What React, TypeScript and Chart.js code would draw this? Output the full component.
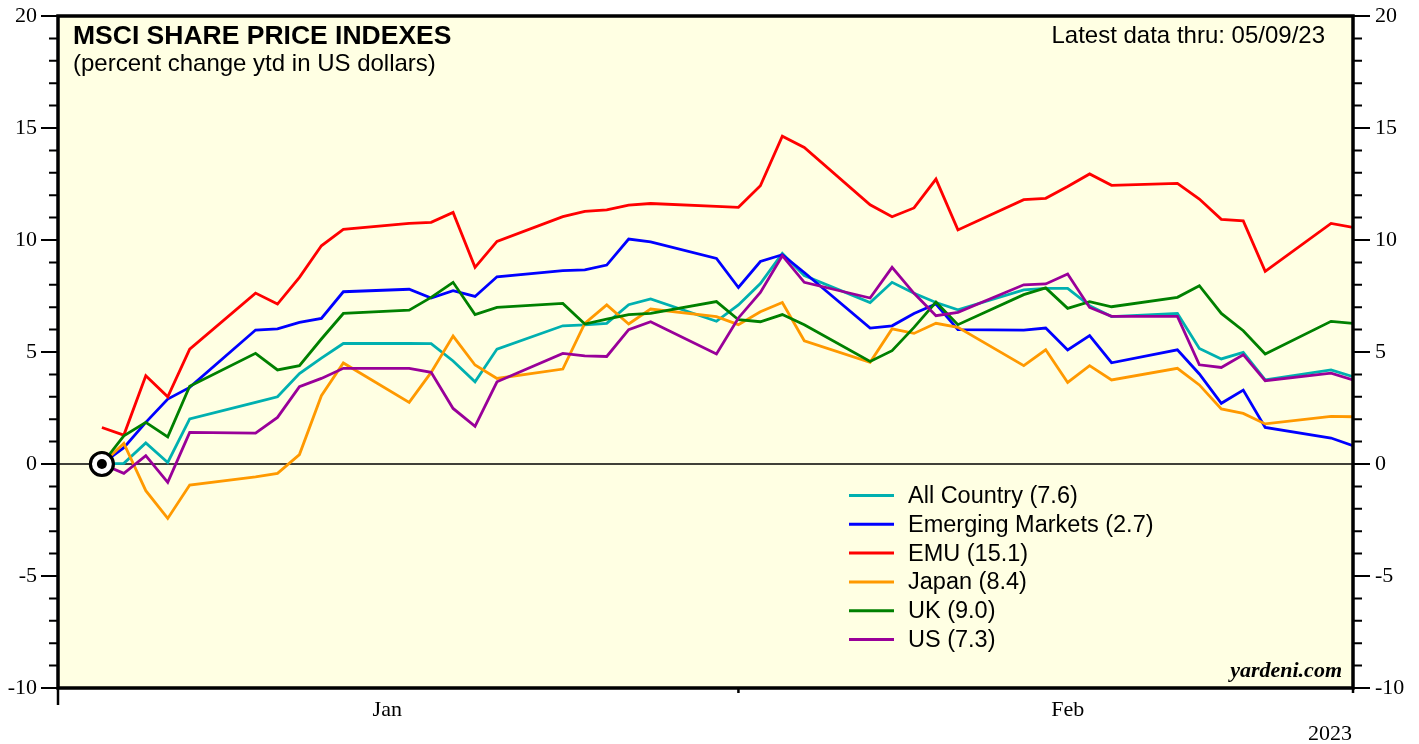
import React, { useEffect, useRef } from "react";
import { Chart, registerables } from "chart.js";
Chart.register(...registerables);

// ---- Data ----
const dates = [
  "2023-01-02", "2023-01-03", "2023-01-04", "2023-01-05", "2023-01-06",
  "2023-01-09", "2023-01-10", "2023-01-11", "2023-01-12", "2023-01-13",
  "2023-01-16", "2023-01-17", "2023-01-18", "2023-01-19", "2023-01-20",
  "2023-01-23", "2023-01-24", "2023-01-25", "2023-01-26", "2023-01-27",
  "2023-01-30", "2023-01-31", "2023-02-01", "2023-02-02", "2023-02-03",
  "2023-02-06", "2023-02-07", "2023-02-08", "2023-02-09", "2023-02-10",
  "2023-02-13", "2023-02-14", "2023-02-15", "2023-02-16", "2023-02-17",
  "2023-02-20", "2023-02-21", "2023-02-22", "2023-02-23", "2023-02-24",
  "2023-02-27", "2023-02-28",
];

const allCountry = [
  0, 0.03, 0.94, 0.07, 2.01, 2.75, 3.0, 4.04, 4.73, 5.38,
  5.38, 5.37, 4.6, 3.67, 5.13, 6.17, 6.21, 6.28, 7.11, 7.37,
  6.37, 7.1, 8.06, 9.4, 8.41, 7.21, 8.11, 7.62, 7.21, 6.88,
  7.77, 7.84, 7.84, 7.07, 6.58, 6.72, 5.16, 4.69, 4.98, 3.76,
  4.2, 3.9,
];
const emergingMarkets = [
  0, 0.73, 1.86, 2.9, 3.42, 5.98, 6.03, 6.32, 6.5, 7.69,
  7.8, 7.41, 7.74, 7.48, 8.36, 8.63, 8.67, 8.88, 10.04, 9.92,
  9.18, 7.88, 9.04, 9.34, 8.55, 6.07, 6.17, 6.72, 7.14, 6.0,
  5.98, 6.07, 5.09, 5.73, 4.52, 5.1, 4.02, 2.71, 3.3, 1.63,
  1.16, 0.82,
];
const emu = [
  1.63, 1.29, 3.94, 3.0, 5.13, 7.63, 7.14, 8.33, 9.74, 10.47,
  10.74, 10.79, 11.23, 8.78, 9.94, 11.04, 11.28, 11.34, 11.56, 11.63,
  11.5, 11.46, 12.42, 14.63, 14.13, 11.57, 11.04, 11.43, 12.72, 10.45,
  11.8, 11.86, 12.39, 12.95, 12.44, 12.53, 11.83, 10.92, 10.85, 8.6,
  10.74, 10.56,
];
const japan = [
  0, 0.92, -1.19, -2.43, -0.94, -0.57, -0.42, 0.42, 3.05, 4.51,
  2.75, 4.09, 5.71, 4.42, 3.82, 4.24, 6.28, 7.1, 6.25, 6.92,
  6.58, 6.22, 6.8, 7.21, 5.5, 4.54, 6.03, 5.83, 6.28, 6.1,
  4.39, 5.1, 3.64, 4.39, 3.75, 4.27, 3.53, 2.46, 2.26, 1.79,
  2.13, 2.11,
];
const uk = [
  0, 1.26, 1.86, 1.21, 3.47, 4.94, 4.2, 4.39, 5.58, 6.72,
  6.87, 7.44, 8.11, 6.67, 6.99, 7.17, 6.25, 6.47, 6.67, 6.72,
  7.25, 6.44, 6.35, 6.67, 6.22, 4.58, 5.06, 6.1, 7.23, 6.22,
  7.56, 7.86, 6.95, 7.25, 7.02, 7.44, 7.96, 6.72, 5.95, 4.91,
  6.37, 6.28,
];
const us = [
  0, -0.42, 0.37, -0.82, 1.41, 1.38, 2.08, 3.45, 3.82, 4.27,
  4.27, 4.09, 2.48, 1.68, 3.67, 4.94, 4.83, 4.8, 6.0, 6.35,
  4.91, 6.52, 7.66, 9.3, 8.11, 7.41, 8.78, 7.62, 6.62, 6.77,
  8.0, 8.04, 8.48, 6.99, 6.59, 6.59, 4.43, 4.31, 4.88, 3.72,
  4.06, 3.75,
];

const seriesLabels = [
  "All Country (7.6)",
  "Emerging Markets (2.7)",
  "EMU (15.1)",
  "Japan (8.4)",
  "UK (9.0)",
  "US (7.3)",
];
const seriesColors = ["#00b0b0", "#0000ff", "#ff0000", "#ff9900", "#008000", "#990099"];
const seriesValues = [allCountry, emergingMarkets, emu, japan, uk, us];

const baseDate = "2023-01-02";
const yMajorTicks = [-10, -5, 0, 5, 10, 15, 20];
const yMinorTicks = Array.from({ length: 31 }, (_, i) => i - 10);
const monthLabels = ["Jan", "Feb"];
const monthLabelDates = ["2023-01-15", "2023-02-15"];
const monthBoundaryDays = [0, 31, 59];
const yearLabel = "2023";

const title = "MSCI SHARE PRICE INDEXES";
const subtitle = "(percent change ytd in US dollars)";
const latestNote = "Latest data thru: 05/09/23";
const sourceNote = "yardeni.com";

function dayOfYear(s: string): number {
  const [y, m, d] = s.split("-").map(Number);
  return Math.round((Date.UTC(y, m - 1, d) - Date.UTC(y, 0, 0)) / 86400000);
}

const SANS = '"Liberation Sans", Arial, sans-serif';
const SERIF = '"Liberation Serif", "Times New Roman", serif';

const decorPlugin = {
  id: "decor",
  beforeDatasetsDraw(chart: any) {
    const { ctx, chartArea: a, scales } = chart;
    ctx.save();
    ctx.fillStyle = "#ffffe3";
    ctx.fillRect(a.left, a.top, a.right - a.left, a.bottom - a.top);
    const y0 = scales.y.getPixelForValue(0);
    ctx.strokeStyle = "#000";
    ctx.lineWidth = 1.5;
    ctx.beginPath();
    ctx.moveTo(a.left, y0);
    ctx.lineTo(a.right, y0);
    ctx.stroke();
    ctx.restore();
  },
  afterDraw(chart: any) {
    const { ctx, chartArea: a, scales } = chart;
    const ys = scales.y;
    const xs = scales.x;
    ctx.save();
    // frame
    ctx.strokeStyle = "#000";
    ctx.lineWidth = 3.5;
    ctx.strokeRect(a.left, a.top, a.right - a.left, a.bottom - a.top);

    // y ticks
    ctx.lineWidth = 2;
    for (const v of yMinorTicks) {
      const y = ys.getPixelForValue(v);
      const major = yMajorTicks.includes(v);
      ctx.beginPath();
      ctx.moveTo(a.left - (major ? 17 : 9), y);
      ctx.lineTo(a.left, y);
      ctx.moveTo(a.right, y);
      ctx.lineTo(a.right + (major ? 17 : 9), y);
      ctx.stroke();
    }
    ctx.fillStyle = "#000";
    ctx.font = "22px " + SERIF;
    ctx.textBaseline = "middle";
    for (const v of yMajorTicks) {
      const y = ys.getPixelForValue(v);
      ctx.textAlign = "right";
      ctx.fillText(String(v), a.left - 21, y);
      ctx.textAlign = "left";
      ctx.fillText(String(v), a.right + 22, y);
    }

    // x ticks
    ctx.lineWidth = 2.5;
    monthBoundaryDays.forEach((d, i) => {
      const x = xs.getPixelForValue(d);
      ctx.beginPath();
      ctx.moveTo(x, a.bottom);
      ctx.lineTo(x, a.bottom + (i === 0 ? 17 : 5));
      ctx.stroke();
    });
    ctx.textBaseline = "alphabetic";
    ctx.textAlign = "center";
    monthLabels.forEach((lab, i) => {
      ctx.fillText(lab, xs.getPixelForValue(dayOfYear(monthLabelDates[i])), a.bottom + 28);
    });
    ctx.textAlign = "right";
    ctx.fillText(yearLabel, a.right - 1, a.bottom + 52);

    // source
    ctx.font = "bold italic 22px " + SERIF;
    ctx.fillText(sourceNote, a.right - 11, a.bottom - 11);

    // titles
    ctx.textAlign = "left";
    ctx.font = "bold 26.5px " + SANS;
    ctx.fillText(title, a.left + 15, a.top + 28);
    ctx.font = "24px " + SANS;
    ctx.fillText(subtitle, a.left + 15, a.top + 55);
    ctx.textAlign = "right";
    ctx.fillText(latestNote, a.right - 28, a.top + 27);

    // legend
    ctx.font = "23.5px " + SANS;
    ctx.textAlign = "left";
    ctx.textBaseline = "middle";
    seriesLabels.forEach((lab, i) => {
      const y = 495.5 + i * 28.8;
      ctx.strokeStyle = seriesColors[i];
      ctx.lineWidth = 3;
      ctx.beginPath();
      ctx.moveTo(849, y);
      ctx.lineTo(894, y);
      ctx.stroke();
      ctx.fillStyle = "#000";
      ctx.fillText(lab, 908, y + 1);
    });
    ctx.restore();
  },
};

export default function App() {
  const ref = useRef<HTMLCanvasElement | null>(null);
  useEffect(() => {
    if (!ref.current) return;
    const days = dates.map(dayOfYear);
    const drawOrder = [5, 4, 3, 2, 1, 0];
    const datasets: any[] = seriesValues.map((vals, i) => ({
      label: seriesLabels[i],
      data: days.map((d, j) => ({ x: d, y: vals[j] })),
      borderColor: seriesColors[i],
      backgroundColor: seriesColors[i],
      borderWidth: 2.8,
      pointRadius: 0,
      tension: 0,
      fill: false,
      order: drawOrder[i],
    }));
    const bd = dayOfYear(baseDate);
    datasets.push({
      label: "base",
      data: [{ x: bd, y: 0 }],
      showLine: false,
      pointRadius: 11.5,
      pointBorderWidth: 3.2,
      pointBorderColor: "#000",
      pointBackgroundColor: "#fff",
      order: -2,
    });
    datasets.push({
      label: "base-dot",
      data: [{ x: bd, y: 0 }],
      showLine: false,
      pointRadius: 5,
      pointBorderWidth: 0,
      pointBackgroundColor: "#000",
      order: -3,
    });
    const chart = new Chart(ref.current, {
      type: "line",
      data: { datasets },
      options: {
        animation: false,
        responsive: false,
        devicePixelRatio: 1,
        layout: { padding: { left: 58, right: 66, top: 16, bottom: 56 } },
        plugins: { legend: { display: false }, tooltip: { enabled: false } },
        scales: {
          x: { type: "linear", min: 0, max: 59, display: false },
          y: { type: "linear", min: -10, max: 20, display: false },
        },
        events: [],
      },
      plugins: [decorPlugin],
    });
    return () => chart.destroy();
  }, []);
  return (
    <div style={{ position: "absolute", left: 0, top: 0, width: 1419, height: 744, background: "#fff" }}>
      <canvas ref={ref} width={1419} height={744} style={{ display: "block" }} />
    </div>
  );
}
